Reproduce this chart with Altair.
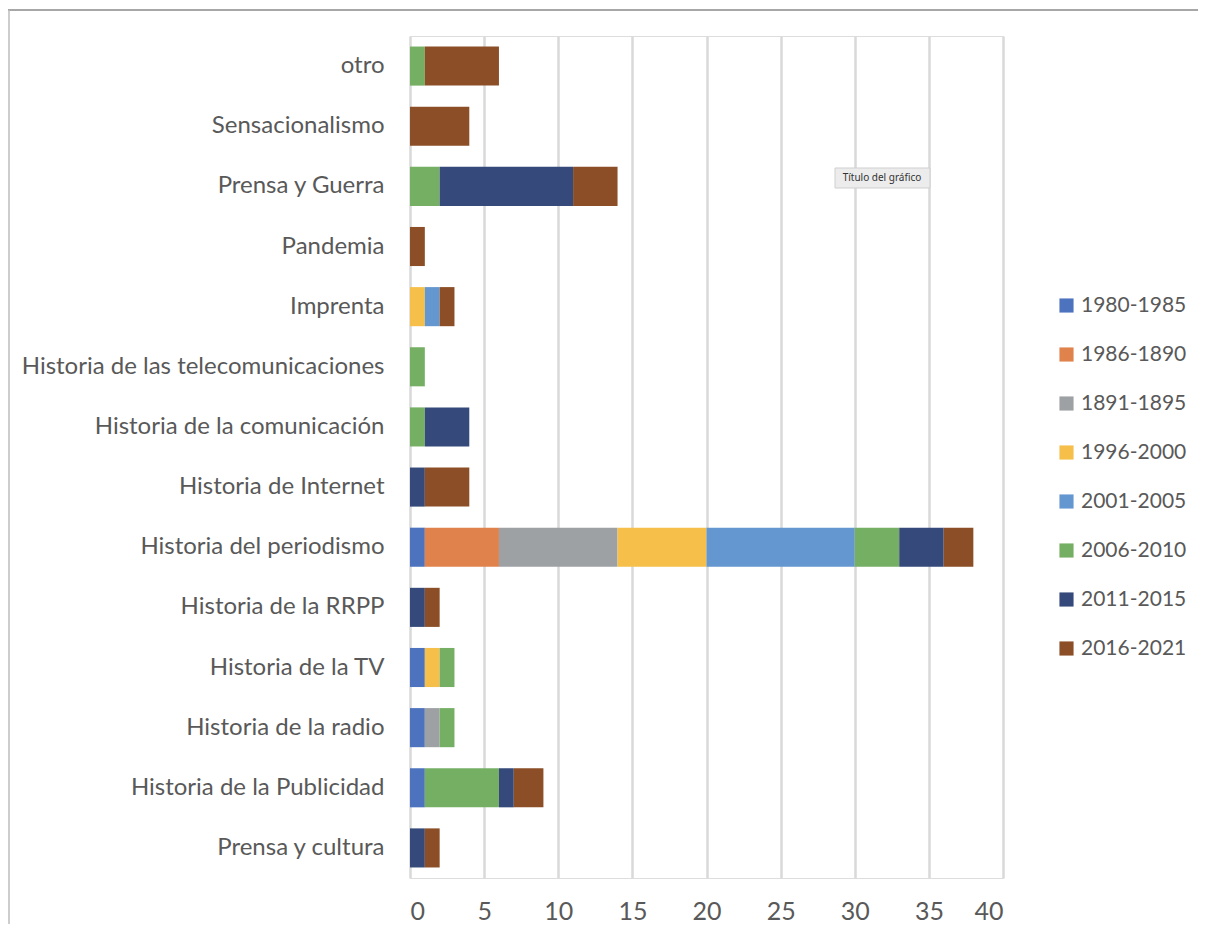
import altair as alt
import pandas as pd

categories = ["otro", "Sensacionalismo", "Prensa y Guerra", "Pandemia", "Imprenta",
              "Historia de las telecomunicaciones", "Historia de la comunicación",
              "Historia de Internet", "Historia del periodismo", "Historia de la RRPP",
              "Historia de la TV", "Historia de la radio", "Historia de la Publicidad",
              "Prensa y cultura"]
periods = ["1980-1985", "1986-1890", "1891-1895", "1996-2000",
           "2001-2005", "2006-2010", "2011-2015", "2016-2021"]
colors = ["#4E73BE", "#E0824B", "#9EA1A4", "#F5BF4A", "#6497CF", "#75AF63", "#354A7A", "#8B4E26"]

# values per period, in the order of categories
s1980_1985 = [0, 0, 0, 0, 0, 0, 0, 0, 1, 0, 1, 1, 1, 0]
s1986_1890 = [0, 0, 0, 0, 0, 0, 0, 0, 5, 0, 0, 0, 0, 0]
s1891_1895 = [0, 0, 0, 0, 0, 0, 0, 0, 8, 0, 0, 1, 0, 0]
s1996_2000 = [0, 0, 0, 0, 1, 0, 0, 0, 6, 0, 1, 0, 0, 0]
s2001_2005 = [0, 0, 0, 0, 1, 0, 0, 0, 10, 0, 0, 0, 0, 0]
s2006_2010 = [1, 0, 2, 0, 0, 1, 1, 0, 3, 0, 1, 1, 5, 0]
s2011_2015 = [0, 0, 9, 0, 0, 0, 3, 1, 3, 1, 0, 0, 1, 1]
s2016_2021 = [5, 4, 3, 1, 1, 0, 0, 3, 2, 1, 0, 0, 2, 1]

series = [s1980_1985, s1986_1890, s1891_1895, s1996_2000,
          s2001_2005, s2006_2010, s2011_2015, s2016_2021]

rows = []
for pi, (p, vals) in enumerate(zip(periods, series)):
    for c, v in zip(categories, vals):
        if v > 0:
            rows.append({"categoria": c, "periodo": p, "orden": pi, "valor": v})
df = pd.DataFrame(rows)

FONT = "Lato"
TXT = "#595959"

bars = alt.Chart(df).mark_bar().encode(
    y=alt.Y("categoria:N", sort=categories, title=None,
            scale=alt.Scale(paddingInner=0.35, paddingOuter=0.175),
            axis=alt.Axis(labelFontSize=24, labelColor=TXT, labelFont=FONT, labelLimit=0,
                          labelPadding=26, ticks=False, domain=False, grid=False)),
    x=alt.X("valor:Q", stack="zero", title=None,
            scale=alt.Scale(domain=[0, 40]),
            axis=alt.Axis(values=list(range(0, 41, 5)), labelFontSize=25, labelColor=TXT,
                          labelFont=FONT, labelPadding=21, ticks=False, domain=False,
                          grid=True, gridColor="#D9D9D9", gridWidth=2.5)),
    color=alt.Color("periodo:N", sort=periods,
                    scale=alt.Scale(domain=periods, range=colors),
                    legend=alt.Legend(title=None, orient="none", legendX=646, legendY=259,
                                      labelFontSize=21, labelColor=TXT, labelFont=FONT,
                                      labelLimit=0,
                                      symbolType="square", symbolSize=200, symbolStrokeWidth=0,
                                      rowPadding=27, labelOffset=4)),
    order=alt.Order("orden:Q"),
)

note_df = pd.DataFrame({"t": ["Título del gráfico"]})
note_box = alt.Chart(note_df).mark_rect(color="#ECECEC", stroke="#CFCFCF", strokeWidth=1).encode(
    x=alt.value(425), x2=alt.value(520), y=alt.value(132), y2=alt.value(152)
)
note_txt = alt.Chart(note_df).mark_text(font="Noto Sans", fontSize=10, color="#333333",
                                         align="center", baseline="middle").encode(
    x=alt.value(472), y=alt.value(142), text="t:N"
)

frame_df = pd.DataFrame({"a": [0]})
top_line = alt.Chart(frame_df).mark_rule(color="#8A8A8A", strokeWidth=1.5).encode(
    x=alt.value(-402), x2=alt.value(800), y=alt.value(-26)
)
left_line = alt.Chart(frame_df).mark_rule(color="#BDBDBD", strokeWidth=1.5).encode(
    x=alt.value(-401), y=alt.value(-26), y2=alt.value(900)
)

chart = alt.layer(bars, note_box, note_txt, top_line, left_line).properties(
    width=593, height=842,
    autosize=alt.AutoSizeParams(type="none"),
    padding={"left": 402, "top": 28, "right": 195, "bottom": 46},
).configure_view(stroke=None).configure(font=FONT)

chart.save("out.html", embed_options={"renderer": "svg", "actions": False})
